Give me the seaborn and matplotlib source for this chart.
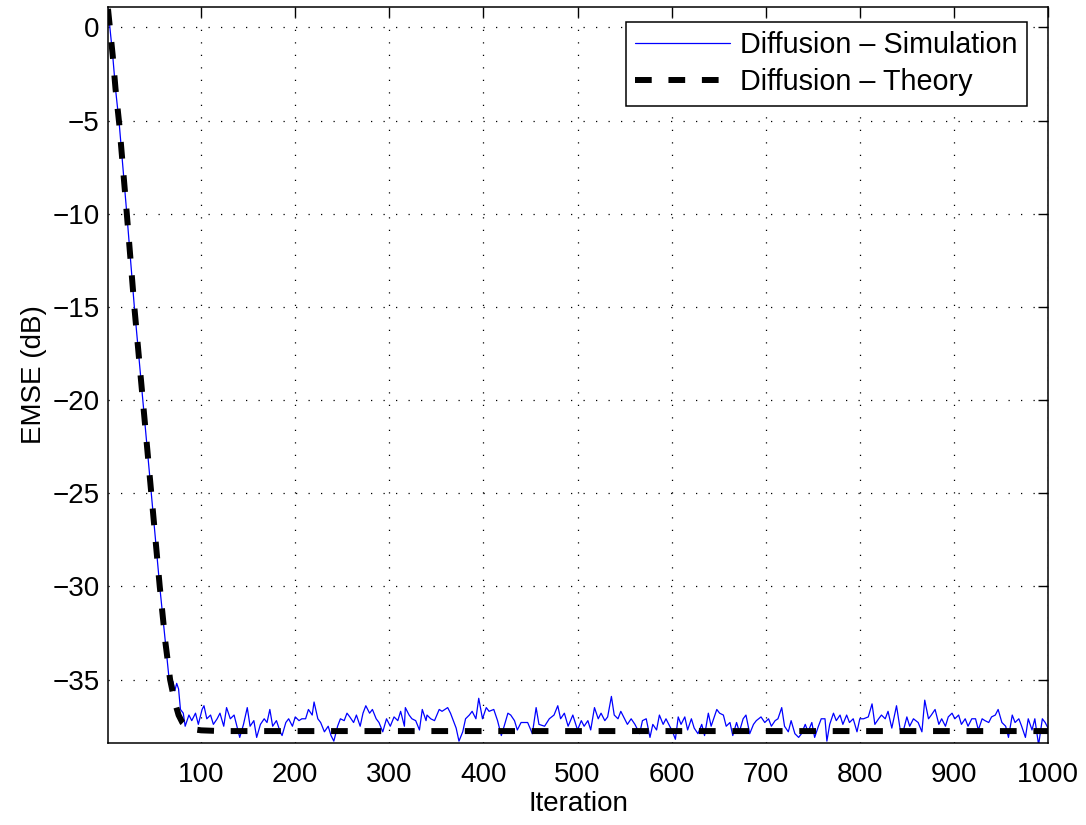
import numpy as np
import pandas as pd
import matplotlib
matplotlib.use("Agg")
import matplotlib.pyplot as plt
import seaborn as sns

# Simulação: parte transitória
sim_iter_a = [1, 6, 9, 13, 17, 21, 29, 38, 47, 56, 62, 66, 68, 70, 72, 74, 76, 78]
sim_db_a = [1.0, -1.5, -3.3, -5.2, -7.6, -10, -15, -20, -25, -30, -33, -35,
            -35.5, -35.1, -35.6, -35.2, -35.5, -36.6]

# Simulação: regime permanente, trecho 80-310
sim_iter_b = [81, 83, 87, 90, 94, 97, 101, 103, 106, 110,
              113, 117, 120, 124, 127, 131, 135, 138, 141, 145,
              149, 152, 156, 159, 163, 167, 170, 173, 176, 180,
              184, 186, 190, 193, 197, 200, 204, 207, 211, 214,
              218, 220, 224, 227, 231, 235, 238, 241, 245, 248,
              252, 255, 258, 262, 265, 269, 272, 275, 279, 282,
              286, 289, 293, 297, 301, 305, 309]
sim_db_b = [-36.8, -37.5, -36.9, -37.2, -36.8, -37.4, -36.6, -36.4, -37.1, -36.9,
            -37.4, -37.1, -36.8, -37.5, -36.5, -37.1, -36.9, -37.5, -38.1, -37.4,
            -36.5, -37.5, -37.2, -38.1, -37.4, -37.1, -37.3, -36.6, -37.5, -37.2,
            -37.8, -38.0, -37.3, -37.1, -37.5, -37.0, -37.2, -37.1, -37.1, -36.6,
            -36.9, -36.2, -37.1, -37.3, -37.8, -37.5, -38.0, -38.3, -37.5, -37.1,
            -37.2, -36.8, -37.0, -37.3, -36.9, -37.5, -36.8, -36.4, -36.8, -36.6,
            -37.1, -37.3, -37.8, -37.1, -37.5, -37.0, -37.2]

# trecho 310-505
sim_iter_c = [312, 316, 317, 321, 324, 328, 332, 335, 339, 340,
              344, 348, 353, 356, 362, 365, 371, 374, 378, 381,
              385, 388, 392, 395, 399, 403, 406, 411, 415, 419,
              422, 426, 429, 433, 436, 440, 447, 452, 456, 459,
              465, 470, 475, 479, 482, 486, 490, 495, 500, 504]
sim_db_c = [-36.7, -37.5, -36.5, -36.9, -37.1, -37.2, -37.7, -36.6, -37.2, -36.9,
            -37.1, -37.2, -36.6, -36.7, -36.5, -36.8, -37.6, -38.3, -37.8, -37.1,
            -36.9, -36.7, -37.1, -36.0, -37.1, -36.5, -36.7, -36.6, -37.2, -38.0,
            -37.5, -36.8, -36.9, -37.2, -37.7, -37.3, -37.3, -37.9, -36.5, -37.4,
            -37.5, -37.1, -36.9, -36.4, -37.1, -36.8, -37.5, -36.9, -37.7, -37.2]

# trecho 505-735
sim_iter_d = [507, 511, 514, 518, 522, 525, 529, 532, 536, 539,
              543, 546, 550, 553, 557, 561, 566, 569, 573, 577,
              580, 584, 587, 591, 594, 598, 601, 604, 607, 610,
              614, 617, 621, 624, 628, 632, 635, 639, 642, 648,
              651, 655, 658, 662, 665, 669, 672, 676, 679, 683,
              687, 690, 695, 699, 703, 706, 710, 713, 717, 720,
              724, 727, 731, 735]
sim_db_d = [-37.5, -37.2, -37.7, -36.5, -37.1, -36.8, -37.2, -37.0, -35.9, -36.9,
            -37.1, -36.7, -37.1, -37.4, -37.1, -37.4, -37.9, -37.2, -37.1, -38.1,
            -37.4, -37.7, -36.9, -37.4, -37.1, -37.5, -37.8, -38.2, -37.0, -37.4,
            -37.0, -37.7, -37.1, -37.6, -37.9, -37.4, -38.0, -36.8, -37.5, -36.6,
            -36.8, -36.9, -37.5, -37.3, -38.0, -37.3, -37.8, -37.1, -36.9, -37.9,
            -37.4, -37.2, -37.0, -37.3, -37.1, -37.5, -37.2, -37.1, -36.5, -37.5,
            -37.8, -37.2, -37.9, -38.1]

# trecho 735-1000
sim_iter_e = [738, 742, 745, 749, 752, 756, 759, 763, 765, 768,
              772, 775, 779, 782, 786, 789, 793, 797, 800, 804,
              809, 813, 816, 820, 823, 827, 830, 834, 839, 843,
              846, 850, 853, 857, 862, 866, 869, 873, 876, 880,
              884, 887, 891, 894, 898, 901, 905, 908, 912, 915,
              919, 923, 926, 930, 933, 937, 940, 944, 947, 951,
              955, 958, 962, 965, 969, 972, 976, 979, 983, 986,
              990, 994, 997, 1000]
sim_db_e = [-37.9, -37.4, -37.8, -37.3, -38.1, -37.5, -37.1, -37.1, -38.3, -37.4,
            -36.8, -37.2, -36.9, -37.4, -36.9, -37.3, -37.1, -37.8, -37.1, -37.1,
            -37.0, -36.3, -37.4, -37.1, -36.9, -37.1, -36.7, -37.6, -36.4, -37.7,
            -37.8, -37.0, -37.5, -37.1, -37.3, -37.8, -36.1, -37.1, -36.9, -36.6,
            -37.4, -37.1, -37.5, -37.0, -36.8, -37.1, -36.9, -37.4, -37.1, -37.5,
            -37.1, -37.1, -37.7, -37.1, -37.2, -37.3, -37.0, -36.9, -36.6, -37.3,
            -37.5, -38.1, -36.9, -37.3, -37.1, -37.5, -38.1, -37.1, -37.7, -37.1,
            -38.5, -37.1, -37.3, -37.6]

# Teoria
theory_iter = [1, 6, 9, 13, 21, 29, 38, 47, 56, 62, 67, 72, 76, 80, 85, 90, 100, 120, 1000]
theory_db = [1.0, -1.5, -3.3, -5.2, -10, -15, -20, -25, -30, -33, -35, -36.2,
             -36.9, -37.3, -37.55, -37.65, -37.72, -37.76, -37.76]

x_ticks = list(range(100, 1001, 100))
y_ticks = [-35, -30, -25, -20, -15, -10, -5, 0]

sim_df = pd.DataFrame({
    'Iteration': sim_iter_a + sim_iter_b + sim_iter_c + sim_iter_d + sim_iter_e,
    'EMSE': sim_db_a + sim_db_b + sim_db_c + sim_db_d + sim_db_e,
})
theory_df = pd.DataFrame({'Iteration': theory_iter, 'EMSE': theory_db})

sns.set_style("white")
plt.rcParams['font.family'] = ['Liberation Sans', 'DejaVu Sans']
plt.rcParams['font.size'] = 20
plt.rcParams['text.color'] = 'black'
plt.rcParams['axes.labelcolor'] = 'black'
plt.rcParams['xtick.color'] = 'black'
plt.rcParams['ytick.color'] = 'black'

fig = plt.figure(figsize=(10.86, 8.25), dpi=100)
ax = fig.add_axes([108 / 1086, 1 - 743 / 825, 940 / 1086, 736 / 825])

sns.lineplot(data=sim_df, x='Iteration', y='EMSE', ax=ax, color='#0000ff',
             linewidth=0.9, estimator=None, sort=False,
             label='Diffusion – Simulation')
sns.lineplot(data=theory_df, x='Iteration', y='EMSE', ax=ax, color='black',
             linewidth=4.3, linestyle=(0, (2.8, 2.8)), estimator=None, sort=False,
             label='Diffusion – Theory')
ax.lines[-1].set_dash_capstyle('butt')

ax.set_xlim(1, 1000)
ax.set_ylim(-38.4, 1.1)
ax.set_xticks(x_ticks)
ax.set_yticks(y_ticks)
ax.grid(True, color='black', linestyle=(0, (1, 9)), linewidth=0.9)
ax.tick_params(direction='in', length=7, width=1, top=True, right=True,
               labelsize=20, colors='black')
ax.tick_params(axis='x', pad=14)
ax.tick_params(axis='y', pad=6)
for s in ax.spines.values():
    s.set_visible(True)
    s.set_color('black')
    s.set_linewidth(1.1)

ax.set_xlabel('Iteration', fontsize=20, labelpad=2)
ax.set_ylabel('EMSE (dB)', fontsize=20, labelpad=4)

leg = ax.legend(loc='upper right', bbox_to_anchor=(1 - 21 / 940, 1 - 15 / 736),
                borderaxespad=0, fontsize=20.7, fancybox=False, framealpha=1,
                edgecolor='black', handlelength=3.3, handletextpad=0.35,
                labelspacing=0.3, borderpad=0.33)
leg.get_frame().set_linewidth(1.1)

fig.savefig('out.png', dpi=100)
